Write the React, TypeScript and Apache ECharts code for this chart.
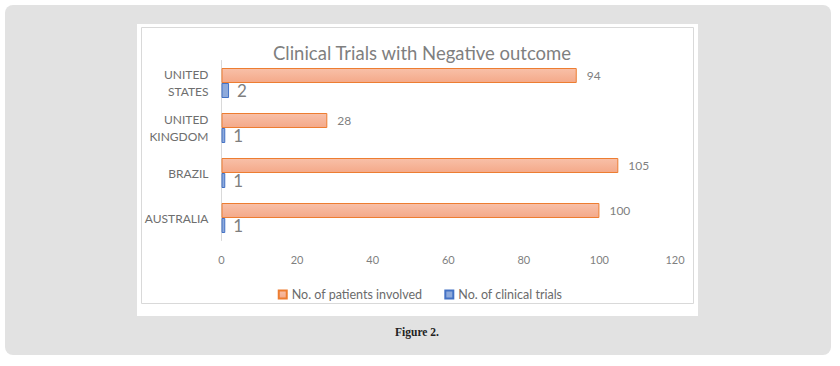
import React, { useEffect, useRef } from "react";
import * as echarts from "echarts";

const categories = ["AUSTRALIA", "BRAZIL", "UNITED\nKINGDOM", "UNITED\nSTATES"];
const patients = [100, 105, 28, 94];
const trials = [1, 1, 1, 2];
const xTicks = { min: 0, max: 120, interval: 20 };
const titleText = "Clinical Trials with Negative outcome";
const seriesNames = ["No. of patients involved", "No. of clinical trials"];
const caption = "Figure 2.";

export default function App() {
  const ref = useRef<HTMLDivElement>(null);
  useEffect(() => {
    const chart = echarts.init(ref.current!, null, { renderer: "svg" });
    const font = "Lato, 'Open Sans', sans-serif";
    chart.setOption({
      animation: false,
      backgroundColor: "#ffffff",
      textStyle: { fontFamily: font },
      graphic: [
        { type: "rect", z: -10, shape: { x: 5, y: 5, width: 826, height: 350, r: 8 }, style: { fill: "#e2e2e2" }, silent: true },
        { type: "rect", z: -9, shape: { x: 137, y: 24, width: 561, height: 292 }, style: { fill: "#ffffff" }, silent: true },
        { type: "rect", z: -8, shape: { x: 141.5, y: 27.5, width: 552, height: 276 }, style: { fill: "none", stroke: "#d9d9d9", lineWidth: 1 }, silent: true },
        { type: "text", x: 417, y: 332, style: { text: caption, fill: "#222", font: "bold 11.5px 'Liberation Serif', serif", textAlign: "center", textVerticalAlign: "middle" } },
      ],
      title: {
        text: titleText,
        left: 417,
        top: 38,
        textAlign: "center",
        textStyle: { color: "#7f7f7f", fontSize: 18.5, fontWeight: "normal", fontFamily: font },
      },
      legend: {
        data: seriesNames,
        top: 283,
        left: "center",
        icon: "rect",
        itemWidth: 8,
        itemHeight: 8,
        itemGap: 22,
        textStyle: { color: "#6b6b6b", fontSize: 12.5, fontFamily: font },
      },
      grid: { left: 221.5, width: 453.5, top: 60.5, height: 180, containLabel: false },
      xAxis: {
        type: "value",
        min: xTicks.min,
        max: xTicks.max,
        interval: xTicks.interval,
        axisLine: { show: false },
        axisTick: { show: false },
        splitLine: { show: false },
        axisLabel: { color: "#7f7f7f", fontSize: 11, margin: 13 },
      },
      yAxis: {
        type: "category",
        data: categories,
        axisLine: { show: true, lineStyle: { color: "#d9d9d9" } },
        axisTick: { show: false },
        axisLabel: { color: "#6e6e6e", fontSize: 12, fontWeight: "normal", margin: 13, align: "right", lineHeight: 17 },
      },
      series: [
        {
          name: seriesNames[0],
          type: "bar",
          data: patients,
          barWidth: 15,
          barGap: "0%",
          itemStyle: {
            color: new echarts.graphic.LinearGradient(0, 0, 0, 1, [
              { offset: 0, color: "#f8c0a8" },
              { offset: 1, color: "#f4a989" },
            ]),
            borderColor: "#ed7d31",
            borderWidth: 1,
          },
          label: { show: true, position: "right", distance: 10, color: "#7f7f7f", fontSize: 12, fontFamily: font },
        },
        {
          name: seriesNames[1],
          type: "bar",
          data: trials,
          barWidth: 15,
          barGap: "0%",
          itemStyle: { color: "#8eaadb", borderColor: "#4472c4", borderWidth: 1 },
          label: { show: true, position: "right", distance: 8, color: "#7f7f7f", fontSize: 17, fontFamily: font },
        },
      ],
    });
    return () => chart.dispose();
  }, []);
  return (
    <div style={{ position: "absolute", left: 0, top: 0, width: 840, height: 366 }}>
      <div ref={ref} style={{ width: 840, height: 366 }} />
    </div>
  );
}
